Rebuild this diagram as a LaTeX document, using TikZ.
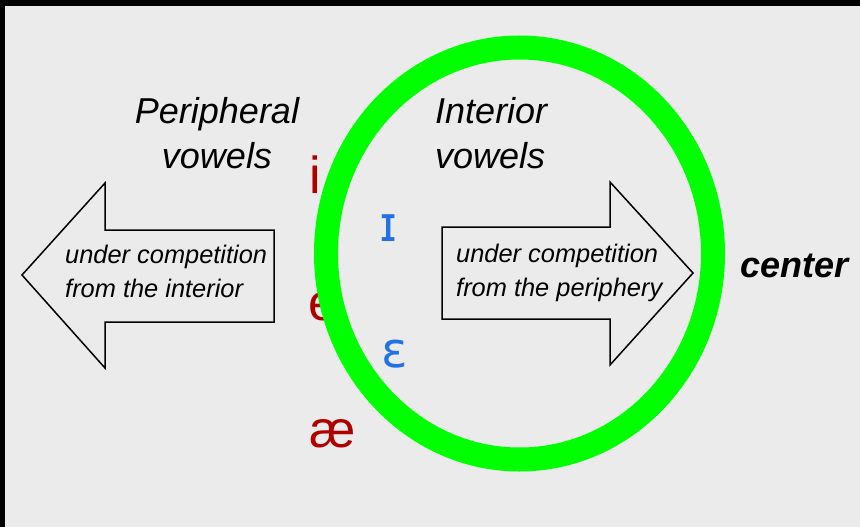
\documentclass[tikz,border=0pt]{standalone}
\usepackage{fontspec}
\setmainfont{Liberation Sans}
\newfontfamily\ipafont{DejaVu Sans}
\definecolor{bggray}{RGB}{235,235,235}
\definecolor{vred}{RGB}{175,0,0}
\definecolor{vblue}{RGB}{33,113,232}
\definecolor{ringgreen}{RGB}{0,255,0}
\tikzset{
  lbl/.style={inner sep=0pt, font=\fontsize{36}{45}\selectfont\itshape, text=black},
  arrtext/.style={inner sep=0pt, font=\fontsize{25.4}{34}\selectfont\itshape, align=left, anchor=base west},
  redv/.style={inner sep=0pt, text=vred, font=\fontsize{52}{52}\selectfont, anchor=base},
  bluev/.style={inner sep=0pt, text=vblue, font=\ipafont\fontsize{49}{49}\selectfont, anchor=base},
  blockarrow/.style={draw=black, line width=1.5pt, line join=miter},
}
\begin{document}
\begin{tikzpicture}[x=1pt,y=-1pt]
\useasboundingbox (0,0) rectangle (860,527);
\fill[bggray] (0,0) rectangle (860,527);
\fill[black] (0,0) rectangle (860,6);
\fill[black] (0,0) rectangle (5,527);

% block arrows
\draw[blockarrow] (22,275) -- (105,183) -- (105,230) -- (274,230) -- (274,322) -- (105,322) -- (105,368) -- cycle;
\draw[blockarrow] (693,273) -- (610,182) -- (610,227) -- (442,227) -- (442,319) -- (610,319) -- (610,365) -- cycle;

% multi-line nodes: base anchor = last line baseline
\node[arrtext] (lt) at (65,297) {under competition\\from the interior};
\node[arrtext] (rt) at (456,296) {under competition\\from the periphery};

% headings
\node[lbl, anchor=base, align=center] (per) at (217,168) {Peripheral\\vowels};
\node[lbl, anchor=base west, align=left] (int) at (435,168) {Interior\\vowels};
\node[inner sep=0pt, anchor=base west, font=\fontsize{36}{36}\selectfont\bfseries\itshape] (cen) at (740,277) {center};

% vowels
\node[redv] (vi) at (315,193) {i};
\node[redv, anchor=base west] (ve) at (308,320) {e};
\node[redv, anchor=base west] (vae) at (309,447) {æ};
\node[bluev] (vI) at (389,241) {ɪ};
\node[bluev] (vE) at (395,367) {ɛ};

% ring
\draw[ringgreen, line width=24pt] (519.5,253.5) ellipse [x radius=193.5, y radius=206];
\end{tikzpicture}
\end{document}
